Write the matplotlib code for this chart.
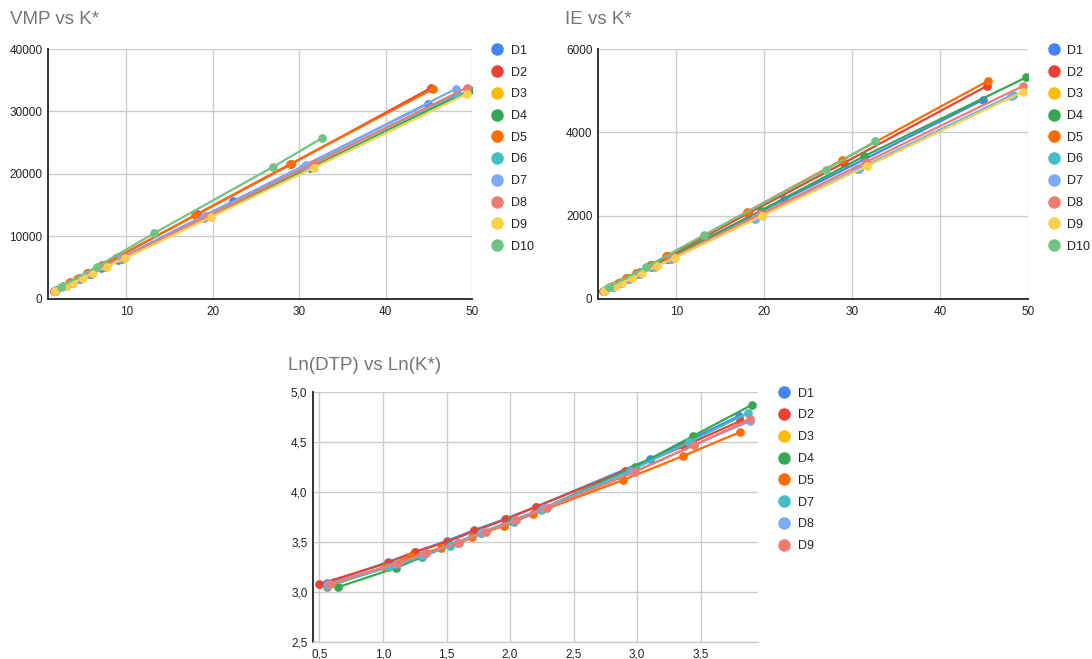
import matplotlib
matplotlib.use("Agg")
import matplotlib.pyplot as plt
from matplotlib.lines import Line2D

plt.rcParams['font.family'] = ['Liberation Sans', 'DejaVu Sans']

names = ["D1", "D2", "D3", "D4", "D5", "D6", "D7", "D8", "D9", "D10"]
colors = ["#4285F4", "#EA4335", "#FBBC04", "#34A853", "#FF6D01",
          "#46BDC6", "#7BAAF7", "#F07B72", "#FCD04F", "#71C287"]

# K* per series (x of the two top charts)
k_d1 = [1.75, 2.85, 3.5, 4.5, 5.6, 7.1, 9.0, 22.3, 44.9]
k_d2 = [1.65, 2.83, 3.49, 4.48, 5.58, 7.17, 9.03, 18.2, 29.1, 45.3]
k_d3 = []
k_d4 = [1.92, 3.0, 3.7, 4.6, 5.9, 7.5, 9.5, 19.6, 31.3, 49.8]
k_d5 = [1.75, 2.77, 3.39, 4.31, 5.47, 7.03, 8.85, 18.0, 28.9, 45.5]
k_d6 = [1.75, 2.86, 3.7, 4.62, 5.87, 7.6, 9.4, 19.0, 30.6, 48.3]
k_d7 = [1.75, 2.86, 3.7, 4.62, 5.87, 7.6, 9.4, 19.0, 30.8, 48.1]
k_d8 = [1.78, 3.0, 3.75, 4.85, 6.0, 7.7, 9.7, 19.5, 31.6, 49.4]
k_d9 = [1.79, 3.06, 3.82, 4.95, 6.11, 7.77, 9.87, 19.8, 31.7, 49.4]
k_d10 = [2.4, 6.6, 13.2, 27.0, 32.6]

# VMP
vmp_d1 = [1300, 2050, 2500, 3200, 3950, 5000, 6300, 15600, 31250]
vmp_d2 = [1250, 2150, 2650, 3380, 4200, 5380, 6750, 13550, 21600, 33800]
vmp_d3 = []
vmp_d4 = [1400, 2100, 2550, 3150, 4000, 5080, 6400, 13200, 21000, 33450]
vmp_d5 = [1300, 2100, 2550, 3230, 4100, 5250, 6600, 13450, 21550, 33600]
vmp_d6 = [1250, 2000, 2550, 3180, 4020, 5180, 6400, 12950, 21100, 32750]
vmp_d7 = [1280, 2050, 2620, 3250, 4100, 5300, 6550, 13250, 21450, 33600]
vmp_d8 = [1250, 2100, 2600, 3350, 4120, 5280, 6620, 13350, 21600, 33800]
vmp_d9 = [1250, 2050, 2550, 3300, 4080, 5180, 6550, 13100, 21000, 32800]
vmp_d10 = [1950, 5170, 10500, 21150, 25700]

# IE
ie_d1 = [200, 310, 380, 485, 600, 760, 960, 2390, 4780]
ie_d2 = [190, 320, 395, 505, 630, 810, 1020, 2060, 3270, 5110]
ie_d3 = []
ie_d4 = [210, 325, 400, 500, 640, 810, 1030, 2120, 3420, 5320]
ie_d5 = [200, 320, 390, 495, 630, 810, 1020, 2090, 3340, 5240]
ie_d6 = [180, 290, 375, 470, 595, 770, 955, 1930, 3110, 4900]
ie_d7 = [180, 295, 380, 475, 600, 780, 960, 1950, 3130, 4880]
ie_d8 = [185, 310, 390, 505, 625, 800, 1010, 2030, 3290, 5110]
ie_d9 = [185, 310, 385, 500, 615, 785, 995, 2000, 3190, 4970]
ie_d10 = [290, 770, 1540, 3100, 3780]

# Ln(DTP) vs Ln(K*)
ln_names = ["D1", "D2", "D3", "D4", "D5", "D7", "D8", "D9"]
lnk_d1 = [0.56, 1.04, 1.25, 1.50, 1.72, 1.96, 2.20, 3.10, 3.80]
lnd_d1 = [3.09, 3.30, 3.40, 3.51, 3.62, 3.73, 3.85, 4.33, 4.76]
lnk_d2 = [0.50, 1.04, 1.25, 1.50, 1.72, 1.97, 2.20, 2.90, 3.37, 3.81]
lnd_d2 = [3.08, 3.29, 3.40, 3.50, 3.61, 3.73, 3.85, 4.21, 4.46, 4.71]
lnk_d3 = []
lnd_d3 = []
lnk_d4 = [0.65, 1.10, 1.31, 1.53, 1.77, 2.01, 2.25, 2.98, 3.44, 3.90]
lnd_d4 = [3.05, 3.24, 3.35, 3.47, 3.59, 3.71, 3.83, 4.25, 4.56, 4.87]
lnk_d5 = [0.56, 1.02, 1.22, 1.46, 1.70, 1.95, 2.18, 2.89, 3.36, 3.81]
lnd_d5 = [3.05, 3.25, 3.36, 3.44, 3.55, 3.66, 3.78, 4.12, 4.36, 4.60]
lnk_d7 = [0.56, 1.05, 1.31, 1.53, 1.77, 2.03, 2.24, 2.94, 3.41, 3.87]
lnd_d7 = [3.06, 3.25, 3.36, 3.46, 3.59, 3.70, 3.82, 4.21, 4.50, 4.79]
lnk_d8 = [0.57, 1.10, 1.32, 1.58, 1.79, 2.04, 2.27, 2.97, 3.45, 3.89]
lnd_d8 = [3.08, 3.28, 3.38, 3.49, 3.60, 3.72, 3.84, 4.20, 4.47, 4.71]
lnk_d9 = [0.58, 1.12, 1.34, 1.60, 1.81, 2.05, 2.29, 2.98, 3.45, 3.89]
lnd_d9 = [3.08, 3.29, 3.39, 3.49, 3.60, 3.72, 3.84, 4.20, 4.47, 4.73]

top_x_ticks = [10, 20, 30, 40, 50]
vmp_ticks = [0, 10000, 20000, 30000, 40000]
ie_ticks = [0, 2000, 4000, 6000]
ln_x_ticks = [0.5, 1.0, 1.5, 2.0, 2.5, 3.0, 3.5]
ln_x_labels = ["0,5", "1,0", "1,5", "2,0", "2,5", "3,0", "3,5"]
ln_y_ticks = [2.5, 3.0, 3.5, 4.0, 4.5, 5.0]
ln_y_labels = ["2,5", "3,0", "3,5", "4,0", "4,5", "5,0"]

k_all = [k_d1, k_d2, k_d3, k_d4, k_d5, k_d6, k_d7, k_d8, k_d9, k_d10]
vmp_all = [vmp_d1, vmp_d2, vmp_d3, vmp_d4, vmp_d5, vmp_d6, vmp_d7, vmp_d8, vmp_d9, vmp_d10]
ie_all = [ie_d1, ie_d2, ie_d3, ie_d4, ie_d5, ie_d6, ie_d7, ie_d8, ie_d9, ie_d10]
lnk_all = [lnk_d1, lnk_d2, lnk_d3, lnk_d4, lnk_d5, lnk_d7, lnk_d8, lnk_d9]
lnd_all = [lnd_d1, lnd_d2, lnd_d3, lnd_d4, lnd_d5, lnd_d7, lnd_d8, lnd_d9]

W, H = 1092, 659
fig = plt.figure(figsize=(W / 100, H / 100), dpi=100)


def box(l, t, r, b):
    return [l / W, 1 - b / H, (r - l) / W, (b - t) / H]


def style(ax, dark_bottom=True):
    ax.grid(True, color="#cccccc", linewidth=1)
    ax.set_axisbelow(True)
    for s in ["top", "right"]:
        ax.spines[s].set_visible(False)
    ax.spines["left"].set_color("#333333")
    ax.spines["left"].set_linewidth(1.4)
    ax.spines["bottom"].set_color("#333333" if dark_bottom else "#cccccc")
    ax.spines["bottom"].set_linewidth(1.4 if dark_bottom else 1)
    ax.tick_params(length=0, labelsize=8.5, labelcolor="#222222")
    ax.tick_params(axis="x", pad=5)
    ax.tick_params(axis="y", pad=4)


def legend(ax, labels, cols):
    handles = [Line2D([], [], marker="o", linestyle="none", markersize=8,
                      markerfacecolor=c, markeredgecolor=c) for c in cols]
    ax.legend(handles, labels, loc="upper left", bbox_to_anchor=(1.045, 1.017),
              frameon=False, fontsize=9, handlelength=1.0, handletextpad=0.6,
              labelspacing=0.78, borderaxespad=0, borderpad=0, labelcolor="#222222")


def series(ax, xs, ys, cols):
    for x, y, c in zip(xs, ys, cols):
        ax.plot(x, y, color=c, linewidth=1.6, marker="o", markersize=6.3,
                markeredgewidth=0, solid_capstyle="round")


# VMP vs K*
ax1 = fig.add_axes(box(48, 49, 472, 299))
series(ax1, k_all, vmp_all, colors)
ax1.set_xlim(0.95, 50)
ax1.set_ylim(0, 40000)
ax1.set_xticks(top_x_ticks)
ax1.set_yticks(vmp_ticks)
style(ax1)
legend(ax1, names, colors)
fig.text(10 / W, 1 - 20 / H, "VMP vs K*", fontsize=13.5, color="#757575", va="center")

# IE vs K*
ax2 = fig.add_axes(box(598, 49, 1028, 299))
series(ax2, k_all, ie_all, colors)
ax2.set_xlim(1.1, 50)
ax2.set_ylim(0, 6000)
ax2.set_xticks(top_x_ticks)
ax2.set_yticks(ie_ticks)
style(ax2)
legend(ax2, names, colors)
fig.text(565 / W, 1 - 20 / H, "IE vs K*", fontsize=13.5, color="#757575", va="center")

# Ln(DTP) vs Ln(K*)
ax3 = fig.add_axes(box(313, 392, 758, 642))
series(ax3, lnk_all, lnd_all, colors[:8])
ax3.set_xlim(0.45, 3.95)
ax3.set_ylim(2.5, 5.0)
ax3.set_xticks(ln_x_ticks)
ax3.set_xticklabels(ln_x_labels)
ax3.set_yticks(ln_y_ticks)
ax3.set_yticklabels(ln_y_labels)
style(ax3, dark_bottom=False)
legend(ax3, ln_names, colors[:8])
fig.text(288 / W, 1 - 365 / H, "Ln(DTP) vs Ln(K*)", fontsize=13.5, color="#757575", va="center")

fig.savefig("out.png", dpi=100)
